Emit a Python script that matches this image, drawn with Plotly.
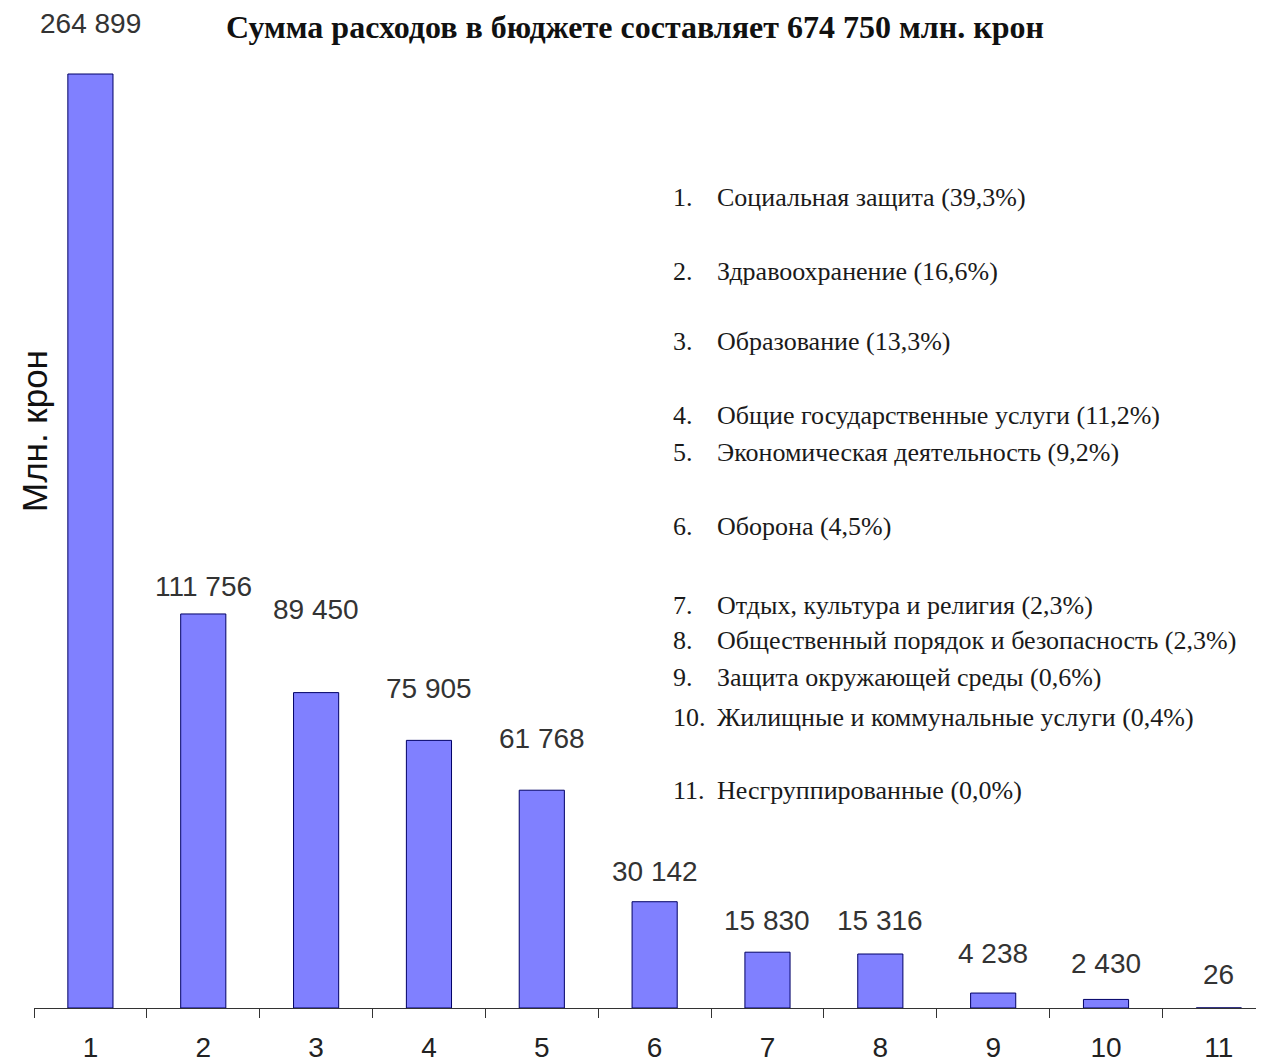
import plotly.graph_objects as go

# budget expenses, mln. kroon
categories = ['1', '2', '3', '4', '5', '6', '7', '8', '9', '10', '11']
values = [264899, 111756, 89450, 75905, 61768, 30142, 15830, 15316, 4238, 2430, 26]
value_labels = ['264 899', '111 756', '89 450', '75 905', '61 768', '30 142',
                '15 830', '15 316', '4 238', '2 430', '26']
items = ['Социальная защита', 'Здравоохранение', 'Образование',
         'Общие государственные услуги', 'Экономическая деятельность', 'Оборона',
         'Отдых, культура и религия', 'Общественный порядок и безопасность',
         'Защита окружающей среды', 'Жилищные и коммунальные услуги',
         'Несгруппированные']
shares = ['39,3%', '16,6%', '13,3%', '11,2%', '9,2%', '4,5%',
          '2,3%', '2,3%', '0,6%', '0,4%', '0,0%']
title = 'Сумма расходов в бюджете составляет 674 750 млн. крон'

# layout constants (page pixels; the page body adds an 8px margin)
OFF = 8
W, H = 1264 - OFF, 1062 - OFF
ML, MR, MT, MB = 34 - OFF, 0, 10 - OFF, 1062 - 1008
label_shift = [51, 27, 83, 52, 52, 30, 32, 34, 40, 36, 33]
legend_rows = [198, 271, 341, 416, 452, 526, 605, 640, 677, 717, 790]

SANS = 'Liberation Sans, Arial'
SERIF = 'Liberation Serif, Times New Roman'


def px_x(p):
    return (p - OFF - ML) / (W - ML - MR)


def px_y(p):
    return (H - MB - (p - OFF)) / (H - MT - MB)


fig = go.Figure(go.Bar(
    x=categories, y=values, width=0.4,
    marker=dict(color='#8080ff', line=dict(color='#000066', width=1)),
))

for i, (v, t, s) in enumerate(zip(values, value_labels, label_shift)):
    fig.add_annotation(x=i, y=v, text=t, showarrow=False, yshift=s,
                       xanchor='center', yanchor='middle',
                       font=dict(family=SANS, size=28, color='#333333'))

fnt = dict(family=SERIF, size=26, color='#1a1a1a')
for i, (name, share, row) in enumerate(zip(items, shares, legend_rows)):
    fig.add_annotation(xref='paper', yref='paper', x=px_x(671), y=px_y(row),
                       text=f'{i + 1}.', showarrow=False, xanchor='left', yanchor='middle',
                       font=fnt)
    fig.add_annotation(xref='paper', yref='paper', x=px_x(715), y=px_y(row),
                       text=f'{name} ({share})', showarrow=False, xanchor='left',
                       yanchor='middle', font=fnt)

fig.add_annotation(xref='paper', yref='paper', x=px_x(34), y=px_y(431),
                   text='Млн. крон', textangle=-90, showarrow=False,
                   xanchor='center', yanchor='middle',
                   font=dict(family=SANS, size=35, color='#111111'))

fig.update_layout(
    width=W, height=H,
    margin=dict(l=ML, r=MR, t=MT, b=MB),
    plot_bgcolor='white', paper_bgcolor='white',
    showlegend=False,
    title=dict(text=f'<b>{title}</b>', x=(635 - OFF) / W, xanchor='center',
               y=1 - (27 - OFF) / H, yanchor='middle',
               font=dict(family=SERIF, size=32, color='#111111')),
    xaxis=dict(type='category', range=[-0.5, 10.4], showline=True, linecolor='#333333',
               ticks='outside', tickson='boundaries', ticklen=9, tickcolor='#333333',
               ticklabelstandoff=14,
               tickfont=dict(family=SANS, size=28, color='#222222'),
               showgrid=False),
    yaxis=dict(range=[0, 264899 * (H - MT - MB) / (1008 - 74)], showline=False,
               showticklabels=False, ticks='', showgrid=False, zeroline=False),
)

fig.write_html('out.html')
